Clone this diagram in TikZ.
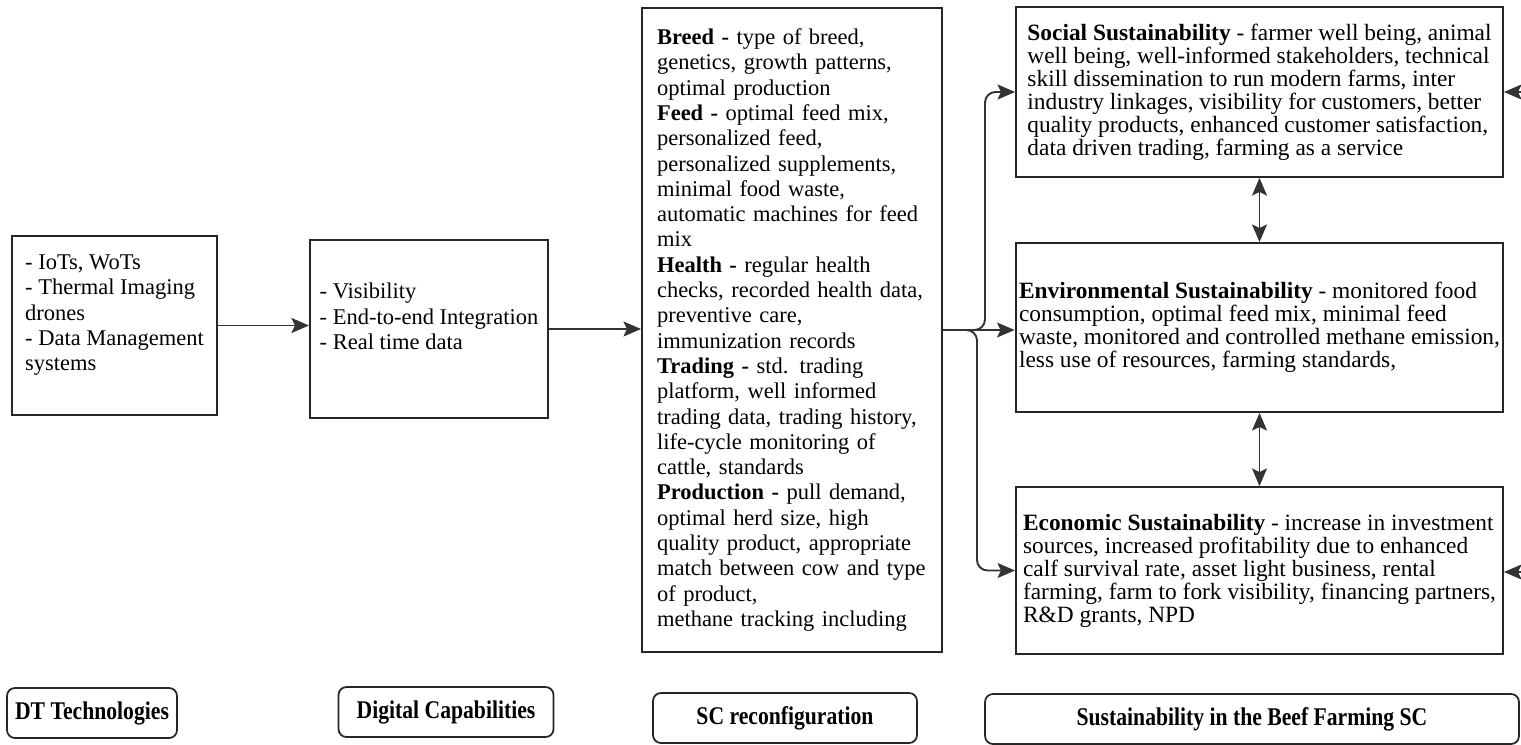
\documentclass[tikz,border=0pt]{standalone}
\usepackage{fontspec}
\usepackage{graphicx}
\setmainfont{Liberation Serif}
\usetikzlibrary{arrows.meta,positioning}
\definecolor{ink}{HTML}{262626}
\definecolor{wire}{HTML}{333333}
\newcommand{\tagtext}[1]{\scalebox{0.85}[1]{#1}}

\begin{document}
\begin{tikzpicture}[x=0.02cm,y=-0.02cm,
  blk/.style={draw=ink,line width=1.1pt,align=left,inner xsep=2pt,inner ysep=0pt,font=\fontsize{12.8}{14.4}\selectfont},
  rblk/.style={blk,minimum width=9.74cm,font=\fontsize{13.3}{13.1}\selectfont},
  tag/.style={draw=ink,line width=1pt,rounded corners=4.5pt,minimum height=1cm,font=\bfseries\fontsize{14.5}{16}\selectfont},
  arr/.style={-{Stealth[length=10pt,width=8.5pt,inset=2pt]},line width=1.1pt,draw=wire},
  dbl/.style={{Stealth[length=10pt,width=8.5pt,inset=2pt]}-{Stealth[length=10pt,width=8.5pt,inset=2pt]},line width=1.1pt,draw=wire}]
\useasboundingbox (0,0) rectangle (1521,744);
\node[blk,minimum width=4.1cm,minimum height=3.58cm] (tech) at (114.5,325.5) {- IoTs, WoTs\\- Thermal Imaging\\drones\\- Data Management\\systems\\\mbox{}};
\node[blk,minimum width=4.76cm,minimum height=3.56cm] (cap) at (429,329) {- Visibility\\- End-to-end Integration\\- Real time data\\\mbox{}};
\node[blk,text width=5.4cm,inner xsep=0.3cm,minimum height=12.88cm] (reconf) at (792,330) {\textbf{Breed -} type of breed,\\genetics, growth patterns,\\optimal production\\\textbf{Feed -} optimal feed mix,\\personalized feed,\\personalized supplements,\\minimal food waste,\\automatic machines for feed\\mix\\\textbf{Health -} regular health\\checks, recorded health data,\\preventive care,\\immunization records\\\textbf{Trading -} std. trading\\platform, well informed\\trading data, trading history,\\life-cycle monitoring of\\cattle, standards\\\textbf{Production -} pull demand,\\optimal herd size, high\\quality product, appropriate\\match between cow and type\\of product,\\methane tracking including};
\node[rblk,minimum height=3.4cm] (soc) at (1259.5,92) {\textbf{Social Sustainability} - farmer well being, animal\\well being, well-informed stakeholders, technical\\skill dissemination to run modern farms, inter\\industry linkages, visibility for customers, better\\quality products, enhanced customer satisfaction,\\data driven trading, farming as a service};
\node[rblk,minimum height=3.38cm] (env) at (1259.5,327.5) {\textbf{Environmental Sustainability} - monitored food\\consumption, optimal feed mix, minimal feed\\waste, monitored and controlled methane emission,\\less use of resources, farming standards,};
\node[rblk,minimum height=3.34cm] (eco) at (1259.5,570.5) {\textbf{Economic Sustainability} - increase in investment\\sources, increased profitability due to enhanced\\calf survival rate, asset light business, rental\\farming, farm to fork visibility, financing partners,\\R\&D grants, NPD};
\node[tag,minimum width=3.4cm] (tagtech) at (92,713) {\tagtext{DT Technologies}};
\node[tag,minimum width=4.3cm] (tagcap) at (446,712) {\tagtext{Digital Capabilities}};
\node[tag,minimum width=5.28cm] (tagreconf) at (785,718) {\tagtext{SC reconfiguration}};
\node[tag,minimum width=10.68cm] (tagsus) at (1252,719) {\tagtext{Sustainability in the Beef Farming SC}};
\coordinate (hub) at (973,330);
\coordinate (upk) at (985,330);
\coordinate (dnk) at (977,330);
\coordinate (rs1) at (1521,92);
\coordinate (rs2) at (1521,572);
\draw[arr] (tech.east) -- (tech.east -| cap.west);
\draw[arr] (cap.east) -- (cap.east -| reconf.west);
\draw[arr] (reconf.east) -- (reconf.east -| env.west);
\draw[arr,rounded corners=6pt] (hub) -- (upk) |- (soc.west);
\draw[arr,rounded corners=6pt] (hub) -- (dnk) |- (eco.west);
\draw[dbl] (soc) -- (env); \draw[dbl] (env) -- (eco);
\draw[arr] (rs1) -- (soc.east |- rs1); \draw[arr] (rs2) -- (eco.east |- rs2);
\end{tikzpicture}
\end{document}
